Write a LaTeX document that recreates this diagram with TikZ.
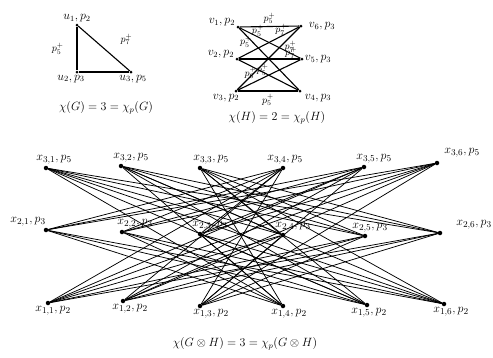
\documentclass[tikz,border=0pt]{standalone}
\usetikzlibrary{positioning}
\begin{document}
\begin{tikzpicture}[
  x=1pt, y=-1pt,
  font=\large,
  dot/.style={circle, fill=black, inner sep=0pt, minimum size=4.5pt},
  sdot/.style={circle, fill=black, inner sep=0pt, minimum size=3pt},
  lbl/.style={inner sep=1pt},
  xlbl/.style={inner sep=1pt, font=\fontsize{13}{15}\selectfont},
  elbl/.style={inner sep=0pt, font=\normalsize},
  edge/.style={line width=0.75pt},
  sedge/.style={line width=1.1pt}
]
\useasboundingbox (0,0) rectangle (493,357);

% G
\node[sdot, label={[lbl]above:$u_1,p_2$}] (u1) at (77,25) {};
\node[sdot, label={[lbl, xshift=-6pt]below:$u_2,p_3$}] (u2) at (77,72) {};
\node[sdot, label={[lbl, xshift=2pt]below:$u_3,p_5$}] (u3) at (131,72) {};
\draw[sedge] (u1) -- node[elbl, left=13pt]{$p_5^+$} (u2);
\draw[sedge] (u2) -- (u3);
\draw[sedge] (u1) -- node[elbl, above right=3pt and 16pt]{$p_7^+$} (u3);
\node (capG) at (106,108) {$\chi(G)=3=\chi_p(G)$};

% H
\node[sdot, label={[lbl, anchor=south east]west:$v_1,p_2$}] (v1) at (238,27) {};
\node[sdot, label={[lbl, anchor=south east]west:$v_2,p_2$}] (v2) at (237,59) {};
\node[sdot, label={[lbl, xshift=-10pt]below:$v_3,p_2$}] (v3) at (236,91) {};
\node[sdot, label={[lbl, xshift=18pt]below:$v_4,p_3$}] (v4) at (300,91) {};
\node[sdot, label={[lbl]right:$v_5,p_3$}] (v5) at (302,59) {};
\node[sdot, label={[lbl, xshift=5pt]right:$v_6,p_3$}] (v6) at (301,26) {};
\draw[sedge] (v1) -- node[elbl, above=2pt]{$p_5^+$} (v6);
\draw[sedge] (v1) -- node[elbl, pos=0.3, above=0pt]{$p_5^+$} (v5);
\draw[sedge] (v1) -- node[elbl, pos=0.22, left=0pt]{$p_5^+$} (v4);
\draw[sedge] (v2) -- node[elbl, pos=0.85, above=0pt]{$p_7^+$} (v5);
\draw[sedge] (v2) -- node[elbl, pos=0.7, above=0pt]{$p_7^+$} (v6);
\draw[sedge] (v2) -- node[elbl, pos=0.2, below=1pt]{$p_6^+$} (v4);
\draw[sedge] (v3) -- node[elbl, below=3pt]{$p_5^+$} (v4);
\draw[sedge] (v3) -- node[elbl, pos=0.4, above=2pt]{$p_5^+$} (v5);
\draw[sedge] (v3) -- node[elbl, pos=0.85, below=4pt]{$p_7^+$} (v6);
\node (capH) at (277,118) {$\chi(H)=2=\chi_p(H)$};

% G x H
\node[dot, label={[xlbl, xshift=8pt]above:$x_{3,1},p_5$}] (x31) at (46,168) {};
\node[dot, label={[xlbl, xshift=10pt]above:$x_{3,2},p_5$}] (x32) at (121,166) {};
\node[dot, label={[xlbl, xshift=11pt]above:$x_{3,3},p_5$}] (x33) at (200,168) {};
\node[dot, label={[xlbl, xshift=2pt]above:$x_{3,4},p_5$}] (x34) at (283,168) {};
\node[dot, label={[xlbl, xshift=10pt]above:$x_{3,5},p_5$}] (x35) at (364,167) {};
\node[dot, label={[xlbl, xshift=25pt, yshift=2pt]above:$x_{3,6},p_5$}] (x36) at (437,163) {};

\node[dot, label={[xlbl, xshift=-18pt]above:$x_{2,1},p_3$}] (x21) at (46,230) {};
\node[dot, label={[xlbl, xshift=13pt]above:$x_{2,2},p_3$}] (x22) at (122,232) {};
\node[dot, label={[xlbl, xshift=10pt]above:$x_{2,3},p_3$}] (x23) at (200,234) {};
\node[dot, label={[xlbl, xshift=10pt]above:$x_{2,4},p_3$}] (x24) at (283,235) {};
\node[dot, label={[xlbl, xshift=5pt]above:$x_{2,5},p_3$}] (x25) at (365,236) {};
\node[dot, label={[xlbl, xshift=34pt]above:$x_{2,6},p_3$}] (x26) at (440,233) {};

\node[dot, label={[xlbl, xshift=5pt]below:$x_{1,1},p_2$}] (x11) at (48,303) {};
\node[dot, label={[xlbl, xshift=7pt]below:$x_{1,2},p_2$}] (x12) at (123,301) {};
\node[dot, label={[xlbl, xshift=11pt]below:$x_{1,3},p_2$}] (x13) at (200,306) {};
\node[dot, label={[xlbl, xshift=6pt]below:$x_{1,4},p_2$}] (x14) at (283,306) {};
\node[dot, label={[xlbl, xshift=2pt]below:$x_{1,5},p_2$}] (x15) at (367,305) {};
\node[dot, label={[xlbl, xshift=7pt]below:$x_{1,6},p_2$}] (x16) at (444,304) {};

\foreach \i in {1,2,3}
  \foreach \k in {1,2,3}
    \foreach \j in {1,2,3}
      \foreach \l in {4,5,6} {
        \ifnum\i=\k\else
          \draw[edge] (x\i\j) -- (x\k\l);
        \fi
      }

\node (capGH) at (245,344) {$\chi(G\otimes H)=3=\chi_p(G\otimes H)$};
\end{tikzpicture}
\end{document}
